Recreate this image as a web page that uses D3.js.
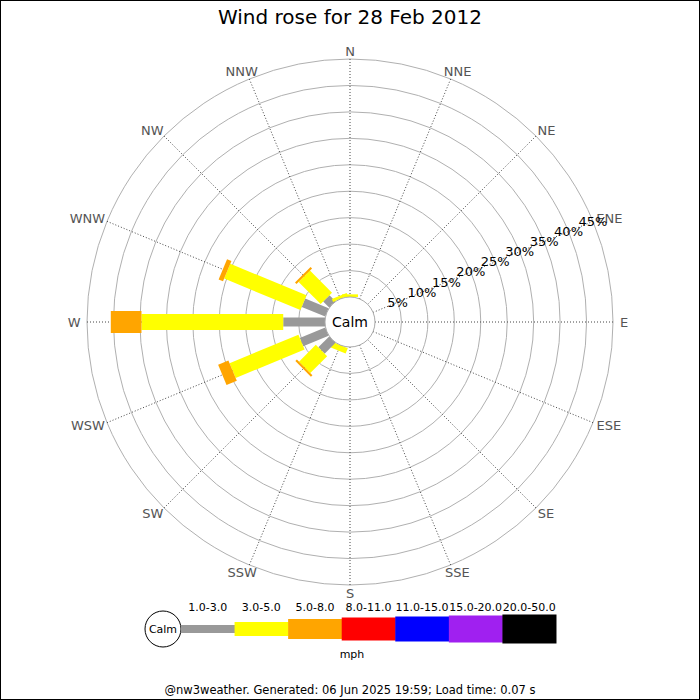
<!DOCTYPE html>
<html><head><meta charset="utf-8">
<script src="https://cdn.jsdelivr.net/npm/d3@7"></script>
<style>body{margin:0;background:#fff}svg{display:block;font-family:"DejaVu Sans",sans-serif}</style>
</head><body>
<svg id="c" width="700" height="700"></svg>
<script>
const title = "Wind rose for 28 Feb 2012";
const footer = "@nw3weather. Generated: 06 Jun 2025 19:59; Load time: 0.07 s";
const directions = ["N","NNE","NE","ENE","E","ESE","SE","SSE","S","SSW","SW","WSW","W","WNW","NW","NNW"];
const speedBins = ["1.0-3.0","3.0-5.0","5.0-8.0","8.0-11.0","11.0-15.0","15.0-20.0","20.0-50.0"];
const binColors = ["#999999","#ffff00","#ffa500","#ff0000","#0000ff","#a020f0","#000000"];
// frequency (%) per direction for each speed bin
const bin1_3   = [0,0,0,0,0,0,0,0,0,0,   2.9,5.2,7.9,4.8,1.6,0];
const bin3_5   = [0.5,0,0,0,0,0,0,0,0,1.1,4.5,14.1,26.8,15.6,5.9,0.6];
const bin5_8   = [0,0,0,0,0,0,0,0,0,0,   0.4,2.1,5.8,0.9,0.4,0];
const bin8_11  = [0,0,0,0,0,0,0,0,0,0,0,0,0,0,0,0];
const bin11_15 = [0,0,0,0,0,0,0,0,0,0,0,0,0,0,0,0];
const bin15_20 = [0,0,0,0,0,0,0,0,0,0,0,0,0,0,0,0];
const bin20_50 = [0,0,0,0,0,0,0,0,0,0,0,0,0,0,0,0];
const series = [bin1_3,bin3_5,bin5_8,bin8_11,bin11_15,bin15_20,bin20_50];
const ringTicks = [5,10,15,20,25,30,35,40,45];
const unitLabel = "mph";

const svg = d3.select("#c");
const cx = 350, cy = 322, calmR = 25, outerR = 263;
const r = d3.scaleLinear().domain([0,45]).range([calmR, outerR]);
const ang = d3.scaleLinear().domain([0,16]).range([0,360]);
const barW = [9,16,22,24,26,28,30];
const legH = [8,14,20,23,25,27,29];

svg.append("rect").attr("x",0.5).attr("y",0.5).attr("width",699).attr("height",699)
  .attr("fill","#fff").attr("stroke","#000");

svg.append("text").attr("x",350).attr("y",24).attr("text-anchor","middle")
  .attr("font-size",20).attr("fill","#000").text(title);

const g = svg.append("g").attr("transform",`translate(${cx},${cy})`);

// rings
g.selectAll("circle.ring").data(ringTicks).join("circle").attr("class","ring")
  .attr("r",d=>r(d)).attr("fill","none").attr("stroke","#b0b0b0").attr("stroke-width",1);

// spokes
const rad = a => (a-90)*Math.PI/180;
g.selectAll("line.spoke").data(directions).join("line")
  .attr("x1",(d,i)=>calmR*Math.cos(rad(ang(i)))).attr("y1",(d,i)=>calmR*Math.sin(rad(ang(i))))
  .attr("x2",(d,i)=>outerR*Math.cos(rad(ang(i)))).attr("y2",(d,i)=>outerR*Math.sin(rad(ang(i))))
  .attr("stroke","#444").attr("stroke-width",1).attr("stroke-dasharray","1,2");

// direction labels
const labR = 271;
g.selectAll("text.dir").data(directions).join("text").attr("class","dir")
  .attr("text-anchor","middle").attr("dominant-baseline","central")
  .attr("font-size",13).attr("fill","#555").text(d=>d)
  .each(function(d,i){
    const a = ang(i)*Math.PI/180;
    const hw = this.getComputedTextLength()/2;
    d3.select(this).attr("x", labR*Math.sin(a) + 0.75*hw*Math.sin(a))
      .attr("y", -labR*Math.cos(a));
  });

// bars
directions.forEach((d,i)=>{
  let cum = 0;
  const dg = g.append("g").attr("transform",`rotate(${ang(i)})`);
  series.forEach((s,k)=>{
    const v = s[i];
    if (v>0){
      const r0 = r(cum), r1 = r(cum+v);
      dg.append("rect").attr("x",-barW[k]/2).attr("y",-r1)
        .attr("width",barW[k]).attr("height",r1-r0).attr("fill",binColors[k]);
    }
    cum += v;
  });
});

// calm circle
g.append("circle").attr("r",calmR).attr("fill","#fff").attr("stroke","#aaa");
g.append("text").attr("text-anchor","middle").attr("dominant-baseline","central")
  .attr("font-size",14).attr("fill","#000").text("Calm");

// percent labels along ENE
const la = rad(67.5);
g.selectAll("text.pct").data(ringTicks).join("text").attr("class","pct")
  .attr("x",d=>r(d)*Math.cos(la)).attr("y",d=>r(d)*Math.sin(la))
  .attr("text-anchor","middle").attr("dominant-baseline","central")
  .attr("font-size",13).attr("fill","#000").text(d=>d+"%");

// legend
const lx0 = 181, lw = 53.57, ly = 629;
const lg = svg.append("g");
lg.append("circle").attr("cx",163).attr("cy",ly).attr("r",18).attr("fill","#fff").attr("stroke","#000");
lg.append("text").attr("x",163).attr("y",ly).attr("text-anchor","middle").attr("dominant-baseline","central")
  .attr("font-size",11).text("Calm");
lg.selectAll("rect.leg").data(speedBins).join("rect").attr("class","leg")
  .attr("x",(d,k)=>lx0+k*lw).attr("y",(d,k)=>ly-legH[k]/2)
  .attr("width",lw+0.5).attr("height",(d,k)=>legH[k]).attr("fill",(d,k)=>binColors[k]);
lg.selectAll("text.leg").data(speedBins).join("text").attr("class","leg")
  .attr("x",(d,k)=>lx0+k*lw+lw/2).attr("y",607).attr("text-anchor","middle")
  .attr("dominant-baseline","central").attr("font-size",11).text(d=>d);
lg.append("text").attr("x",352).attr("y",654).attr("text-anchor","middle")
  .attr("dominant-baseline","central").attr("font-size",11).text(unitLabel);

svg.append("text").attr("x",350).attr("y",694).attr("text-anchor","middle")
  .attr("font-size",11.5).attr("fill","#000").text(footer);
</script>
</body></html>
